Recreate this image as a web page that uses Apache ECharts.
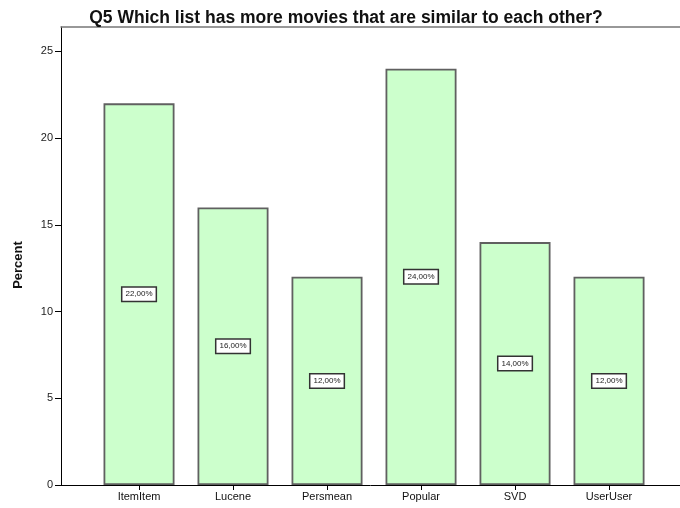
<!DOCTYPE html>
<html>
<head>
<meta charset="utf-8">
<script src="https://cdn.jsdelivr.net/npm/echarts@6/dist/echarts.min.js"></script>
<style>html,body{margin:0;padding:0;background:#fff;}#c{width:680px;height:508px;}</style>
</head>
<body>
<div id="c"></div>
<script>
const title = 'Q5 Which list has more movies that are similar to each other?';
const categories = ['ItemItem', 'Lucene', 'Persmean', 'Popular', 'SVD', 'UserUser'];
const percents = [22, 16, 12, 24, 14, 12];
const yTicks = [0, 5, 10, 15, 20, 25];

const positions = categories.map((c, i) => i);
const font = "'Liberation Sans', Arial, sans-serif";

const chart = echarts.init(document.getElementById('c'), null, {renderer: 'canvas'});
chart.setOption({
  animation: false,
  backgroundColor: '#fff',
  title: {
    text: title,
    left: 341,
    textAlign: 'center',
    top: 4,
    textStyle: {fontFamily: font, fontSize: 17.5, fontWeight: 'bold', color: '#111'}
  },
  grid: {left: 61, right: 0, top: 27, bottom: 23, containLabel: false},
  xAxis: [{
    type: 'value',
    min: -0.83,
    max: 5.755,
    splitLine: {show: false},
    axisLine: {show: true, onZero: false, lineStyle: {color: '#000', width: 1}},
    axisTick: {show: true, length: 5, customValues: positions, lineStyle: {color: '#000'}},
    axisLabel: {
      customValues: positions,
      margin: 6,
      fontFamily: font, fontSize: 11, color: '#111',
      formatter: v => categories[Math.round(v)]
    }
  }, {
    type: 'value',
    position: 'top',
    min: -0.83,
    max: 5.755,
    splitLine: {show: false},
    axisLine: {show: true, onZero: false, lineStyle: {color: '#777', width: 1.5}},
    axisTick: {show: false},
    axisLabel: {show: false}
  }],
  yAxis: {
    type: 'value',
    position: 'left',
    min: 0,
    max: 26.4,
    interval: 5,
    name: 'Percent',
    nameLocation: 'middle',
    nameGap: 36,
    nameTextStyle: {fontFamily: font, fontSize: 13, fontWeight: 'bold', color: '#111', padding: [0, 18, 0, 0]},
    splitLine: {show: false},
    axisLine: {show: true, onZero: false, lineStyle: {color: '#000', width: 1}},
    axisTick: {show: true, length: 6, customValues: yTicks, lineStyle: {color: '#000'}},
    axisLabel: {
      customValues: yTicks,
      margin: 8, fontFamily: font, fontSize: 11, color: '#222'
    }
  },
  series: [{
    type: 'bar',
    xAxisIndex: 0,
    data: percents.map((p, i) => [positions[i], p]),
    barWidth: 71,
    itemStyle: {color: '#ccffcc', borderColor: '#606060', borderWidth: 1.8},
    label: {
      show: true,
      position: 'inside',
      formatter: p => p.value[1].toFixed(2).replace('.', ',') + '%',
      fontFamily: font, fontSize: 8, color: '#222',
      backgroundColor: '#fff',
      borderColor: '#333',
      borderWidth: 1.5,
      padding: [3, 3, 2, 3]
    }
  }]
});
</script>
</body>
</html>
